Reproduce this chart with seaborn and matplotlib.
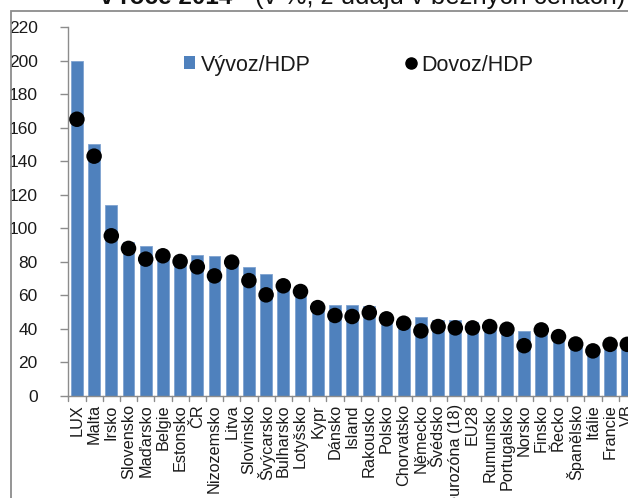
import matplotlib
matplotlib.use("Agg")
import matplotlib.pyplot as plt
import seaborn as sns
import pandas as pd
from matplotlib.patches import Rectangle
from matplotlib.lines import Line2D

countries = ["LUX", "Malta", "Irsko", "Slovensko", "Maďarsko", "Belgie", "Estonsko", "ČR",
             "Nizozemsko", "Litva", "Slovinsko", "Švýcarsko", "Bulharsko", "Lotyšsko", "Kypr",
             "Dánsko", "Island", "Rakousko", "Polsko", "Chorvatsko", "Německo", "Švédsko",
             "eurozóna (18)", "EU28", "Rumunsko", "Portugalsko", "Norsko", "Finsko", "Řecko",
             "Španělsko", "Itálie", "Francie", "VB"]
vyvoz = [200, 150, 114, 92, 89.5, 84, 81, 84.2, 83.6, 80, 77.2, 72.6, 65, 62, 52,
         54.3, 54.3, 53.7, 47, 43, 47, 45.4, 45.4, 44, 41, 40, 39, 38, 34.6,
         30, 29.5, 29, 28]
dovoz = [165, 143, 95.5, 88, 81.6, 83.6, 80.2, 77, 71.6, 79.8, 68.8, 60.3, 65.7, 62.3, 52.7,
         48, 47.4, 49.7, 46, 43.4, 38.8, 41.4, 40.6, 40.6, 41.4, 39.8, 30, 39.4, 35.4,
         31, 26.9, 30.8, 30.8]
yticks = list(range(0, 221, 20))

df = pd.DataFrame({"země": countries, "Vývoz/HDP": vyvoz, "Dovoz/HDP": dovoz})

sns.set_style("white")
plt.rcParams["font.family"] = ["Liberation Sans", "DejaVu Sans"]

W, H = 628, 498
fig = plt.figure(figsize=(W / 100, H / 100), dpi=100)

# outer chart border (cropped)
fig.patches.append(Rectangle((11 / W, -0.1), 1.2, 1 - 11.5 / H + 0.1, transform=fig.transFigure,
                             fill=False, edgecolor="#8c8c8c", linewidth=1.3, zorder=0))

left = 68.3 / W
bottom = (H - 396) / H
top = (H - 27) / H
width = 33 * 17.2 / W
ax = fig.add_axes([left, bottom, width, top - bottom])

blue = "#4F81BD"
sns.barplot(data=df, x="země", y="Vývoz/HDP", color=blue, saturation=1, width=0.68,
            edgecolor="#7fa3d1", linewidth=0.6, ax=ax)
sns.scatterplot(data=df, x="země", y="Dovoz/HDP", color="black", s=125, edgecolor="none",
                ax=ax, zorder=5, legend=False)

ax.set_xlim(-0.5, len(countries) - 0.5)
ax.set_ylim(0, 220)
ax.set_yticks(yticks)
ax.set_yticklabels([str(v) for v in yticks], fontsize=12.5, color="#1a1a1a")
ax.set_xticks(range(len(countries)))
ax.set_xticklabels(countries, rotation=90, fontsize=11.7, color="#1a1a1a")
ax.tick_params(axis="x", length=0, pad=6)
ax.tick_params(axis="y", length=6, width=1, color="#8c8c8c", pad=16, direction="out", left=True)
for b in [i - 0.5 for i in range(len(countries) + 1)]:
    ax.plot([b, b], [0, -4.5 * 220 / 369], color="#8c8c8c", lw=1, clip_on=False)
ax.set_xlabel("")
ax.set_ylabel("")
for s in ["top", "right"]:
    ax.spines[s].set_visible(False)
ax.spines["left"].set_color("#8c8c8c")
ax.spines["bottom"].set_color("#8c8c8c")
ax.spines["left"].set_linewidth(1)
ax.spines["bottom"].set_linewidth(1)

handles = [Rectangle((0, 0), 1, 1, facecolor=blue, edgecolor="none"),
           Line2D([], [], marker="o", color="black", linestyle="none", markersize=8)]
fig.legend(handles, ["Vývoz/HDP", "Dovoz/HDP"], ncol=2, frameon=False,
           loc="center left", bbox_to_anchor=(165 / W, 1 - 65 / H), fontsize=15.5,
           handlelength=0.5, handleheight=0.55, handletextpad=0.25, columnspacing=4.4,
           labelcolor="#1a1a1a")

fig.text(100 / W, 1 - 4 / H, "v roce 2014", fontsize=17.5, fontweight="bold",
         va="baseline", ha="left", color="#111111")
fig.text(255 / W, 1 - 4 / H, "(v %, z údajů v běžných cenách)", fontsize=18.5,
         va="baseline", ha="left", color="#111111")

fig.savefig("out.png", dpi=100)
